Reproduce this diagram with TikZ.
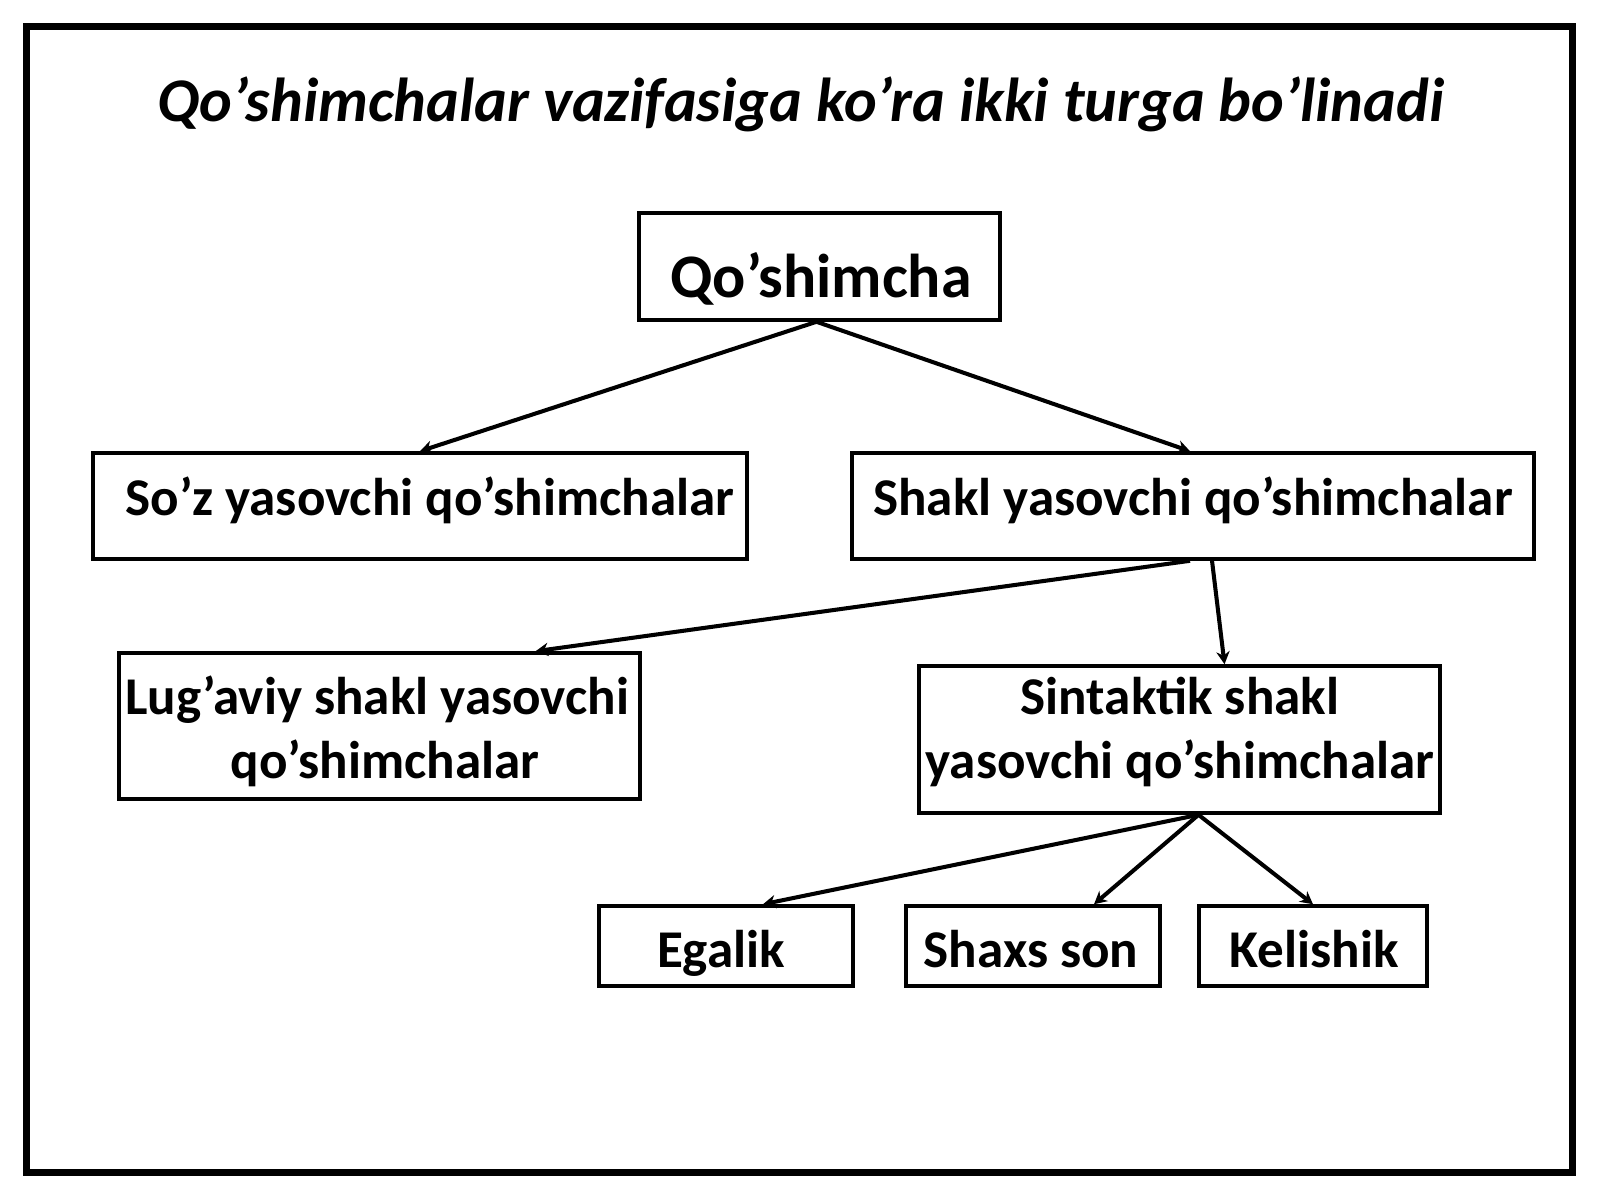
\documentclass[tikz,border=0pt]{standalone}
\usepackage{fontspec}
\setmainfont{Carlito}
\usetikzlibrary{arrows.meta}
\tikzset{
  boxnode/.style={draw=black, line width=1pt, inner sep=0pt, fill=none},
  lbl/.style={anchor=base, inner sep=0pt, font=\bfseries\fontsize{15.1}{18}\selectfont},
  conn/.style={line width=1.15pt, -{Stealth[length=3.6pt,width=3.8pt]}}
}
\begin{document}
\begin{tikzpicture}[x=0.01cm,y=-0.01cm]
\useasboundingbox (0,0) rectangle (1600,1200);
\draw[line width=2pt] (26.5,26.5) rectangle (1572,1172);
% title
\node[anchor=base, inner sep=0pt, font=\bfseries\itshape\fontsize{17.65}{20}\selectfont] (title) at (801,121) {Qo’shimchalar vazifasiga ko’ra ikki turga bo’linadi};
% boxes
\node[boxnode, minimum width=3.61cm, minimum height=1.07cm] (q) at (819.5,266.5) {};
\node[boxnode, minimum width=6.54cm, minimum height=1.06cm] (soz) at (420,506) {};
\node[boxnode, minimum width=6.82cm, minimum height=1.06cm] (shakl) at (1193,506) {};
\node[boxnode, minimum width=5.21cm, minimum height=1.46cm] (lug) at (379.5,726) {};
\node[boxnode, minimum width=5.21cm, minimum height=1.47cm] (sin) at (1179.5,739.5) {};
\node[boxnode, minimum width=2.54cm, minimum height=0.80cm] (ega) at (726,946) {};
\node[boxnode, minimum width=2.54cm, minimum height=0.80cm] (sha) at (1033,946) {};
\node[boxnode, minimum width=2.28cm, minimum height=0.80cm] (kel) at (1313,946) {};
% texts
\node[lbl, font=\bfseries\fontsize{17.6}{20}\selectfont] (tq) at (821,297) {Qo’shimcha};
\node[lbl] (tsoz) at (430,515) {So’z yasovchi qo’shimchalar};
\node[lbl] (tshakl) at (1193,515) {Shakl yasovchi qo’shimchalar};
\node[lbl] (tlug1) at (377,714) {Lug’aviy shakl yasovchi};
\node[lbl] (tlug2) at (385,778) {qo’shimchalar};
\node[lbl] (tsin1) at (1180,714) {Sintaktik shakl};
\node[lbl] (tsin2) at (1180,778) {yasovchi qo’shimchalar};
\node[lbl] (tega) at (721,967) {Egalik};
\node[lbl] (tsha) at (1031,967) {Shaxs son};
\node[lbl] (tkel) at (1314,967) {Kelishik};
% connectors
\draw[conn] ([xshift=-0.03cm]q.south) -- (soz.north);
\draw[conn] ([xshift=-0.03cm]q.south) -- ([xshift=-0.03cm]shakl.north);
\draw[conn] ([xshift=-0.03cm]shakl.south) -- ([xshift=1.56cm]lug.north);
\draw[conn] ([xshift=0.19cm]shakl.south) -- ([xshift=0.45cm]sin.north);
\draw[conn] ([xshift=0.19cm]sin.south) -- ([xshift=0.37cm]ega.north);
\draw[conn] ([xshift=0.19cm]sin.south) -- ([xshift=0.61cm]sha.north);
\draw[conn] ([xshift=0.19cm]sin.south) -- (kel.north);
\end{tikzpicture}
\end{document}
